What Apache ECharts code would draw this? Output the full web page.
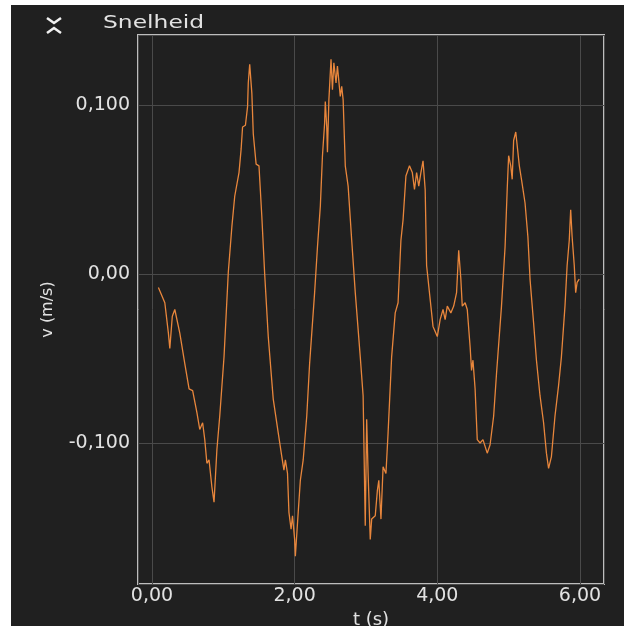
<!DOCTYPE html>
<html>
<head>
<meta charset="utf-8">
<title>Snelheid</title>
<script src="https://cdn.jsdelivr.net/npm/echarts@6/dist/echarts.min.js"></script>
<style>
    html, body { margin: 0; padding: 0; background: #ffffff; }
    .echarts { position: absolute; left: 11px; top: 5px; width: 613px; height: 621px; background: #202020; }
</style>
</head>
<body>
<div class="echarts"></div>
<script>
// meetwaarden
var tijd = [0.09, 0.18, 0.23, 0.25, 0.285, 0.32, 0.39, 0.46, 0.52, 0.57, 0.63, 0.67, 0.71, 0.74, 0.77, 0.80, 0.84, 0.87, 0.91, 0.95,
    1.01, 1.07, 1.12, 1.16, 1.22, 1.25, 1.27, 1.31, 1.34, 1.35, 1.37, 1.40, 1.42, 1.46, 1.50, 1.54, 1.58, 1.63, 1.70, 1.77,
    1.82, 1.85, 1.87, 1.90, 1.92, 1.95, 1.97, 2.00, 2.01, 2.05, 2.08, 2.12, 2.17, 2.21, 2.28, 2.32, 2.36, 2.39, 2.42, 2.43,
    2.45, 2.46, 2.48, 2.51, 2.53, 2.55, 2.58, 2.60, 2.64, 2.66, 2.68, 2.71, 2.75, 2.80, 2.85, 2.92, 2.96, 2.99, 3.01, 3.03,
    3.06, 3.08, 3.13, 3.16, 3.18, 3.21, 3.24, 3.28, 3.31, 3.36, 3.41, 3.45, 3.49, 3.52, 3.56, 3.61, 3.65, 3.68, 3.71, 3.74,
    3.77, 3.80, 3.83, 3.85, 3.90, 3.94, 4.00, 4.04, 4.08, 4.11, 4.14, 4.19, 4.23, 4.27, 4.30, 4.33, 4.35, 4.39, 4.42, 4.46,
    4.48, 4.50, 4.53, 4.56, 4.60, 4.64, 4.70, 4.74, 4.79, 4.83, 4.90, 4.95, 4.98, 5.00, 5.03, 5.05, 5.07, 5.10, 5.12, 5.15,
    5.18, 5.23, 5.27, 5.30, 5.35, 5.39, 5.44, 5.49, 5.53, 5.56, 5.60, 5.65, 5.70, 5.74, 5.79, 5.82, 5.85, 5.87, 5.89, 5.92,
    5.94, 5.96, 5.99];
var snelheid = [-0.008, -0.017, -0.035, -0.044, -0.025, -0.021, -0.035, -0.053, -0.068, -0.069, -0.082, -0.092, -0.088, -0.098, -0.112, -0.110, -0.126, -0.135, -0.104, -0.084,
    -0.049, 0.001, 0.028, 0.046, 0.060, 0.074, 0.087, 0.088, 0.099, 0.113, 0.124, 0.107, 0.083, 0.065, 0.064, 0.034, 0.000, -0.037, -0.074, -0.094,
    -0.108, -0.116, -0.110, -0.118, -0.141, -0.151, -0.143, -0.157, -0.167, -0.141, -0.122, -0.110, -0.084, -0.053, -0.011, 0.016, 0.040, 0.070, 0.089, 0.102,
    0.087, 0.072, 0.103, 0.127, 0.109, 0.125, 0.113, 0.123, 0.105, 0.111, 0.103, 0.064, 0.052, 0.020, -0.011, -0.049, -0.072, -0.149, -0.086, -0.118,
    -0.157, -0.145, -0.143, -0.128, -0.122, -0.145, -0.114, -0.118, -0.094, -0.049, -0.023, -0.017, 0.020, 0.032, 0.058, 0.064, 0.060, 0.050, 0.060, 0.052,
    0.060, 0.067, 0.050, 0.005, -0.015, -0.031, -0.037, -0.027, -0.021, -0.027, -0.019, -0.023, -0.019, -0.011, 0.014, -0.003, -0.019, -0.017, -0.021, -0.043,
    -0.057, -0.051, -0.068, -0.098, -0.100, -0.098, -0.106, -0.101, -0.084, -0.059, -0.019, 0.016, 0.050, 0.070, 0.064, 0.056, 0.079, 0.084, 0.083, 0.064,
    0.056, 0.042, 0.022, -0.003, -0.029, -0.051, -0.072, -0.088, -0.106, -0.115, -0.108, -0.084, -0.066, -0.049, -0.019, 0.005, 0.020, 0.038, 0.022, 0.005,
    -0.011, -0.005, -0.003];

function myecharts() {
    var myChart = echarts.init(document.querySelector('.echarts'));
    var punten = [];
    for (var i = 0; i < tijd.length; i++) {
        punten.push([tijd[i], snelheid[i]]);
    }
    var tekst = '#e2e2e2';
    option = {
        backgroundColor: '#202020',
        animation: false,
        textStyle: { fontFamily: 'DejaVu Sans' },
        graphic: [
            // inklap-icoontje
            { type: 'polyline', shape: { points: [[36, 13], [43, 18], [50, 13]] }, style: { stroke: '#f0f0f0', lineWidth: 2.5, fill: null } },
            { type: 'polyline', shape: { points: [[36, 28], [43, 23], [50, 28]] }, style: { stroke: '#f0f0f0', lineWidth: 2.5, fill: null } },
            {
                type: 'text', x: 92, y: 18, scaleX: 1.3,
                style: { text: 'Snelheid', fill: tekst, font: '18px "DejaVu Sans"', verticalAlign: 'middle' }
            }
        ],
        grid: {
            show: true,
            left: 127,
            right: 20,
            top: 30,
            bottom: 42,
            outerBoundsMode: 'none',
            containLabel: false,
            borderColor: '#bdbdbd',
            borderWidth: 2,
            backgroundColor: '#202020'
        },
        xAxis: {
            type: 'value',
            min: -0.196,
            max: 6.337,
            splitNumber: 3,
            name: 't (s)',
            nameLocation: 'middle',
            nameGap: 14,
            nameTextStyle: { color: tekst, fontSize: 18 },
            axisLine: { show: false },
            axisTick: { show: false },
            axisLabel: {
                color: tekst, fontSize: 19, margin: 3,
                showMinLabel: false, showMaxLabel: false,
                formatter: function(v) {
                    if (Math.abs(v / 2 - Math.round(v / 2)) > 0.001) return '';
                    return v.toFixed(2).replace('.', ',');
                }
            },
            splitLine: { show: true, lineStyle: { color: '#4a4a4a', width: 1 } }
        },
        yAxis: {
            type: 'value',
            min: -0.1834,
            max: 0.1414,
            splitNumber: 3,
            name: 'v (m/s)',
            nameLocation: 'middle',
            nameGap: 82,
            nameTextStyle: { color: tekst, fontSize: 16 },
            axisLine: { show: false },
            axisTick: { show: false },
            axisLabel: {
                color: tekst, fontSize: 19, margin: 8,
                showMinLabel: false, showMaxLabel: false,
                formatter: function(v) {
                    if (Math.abs(v * 10 - Math.round(v * 10)) > 0.001) return '';
                    if (Math.abs(v) < 1e-9) return '0,00';
                    return v.toFixed(3).replace('.', ',');
                }
            },
            splitLine: { show: true, lineStyle: { color: '#4a4a4a', width: 1 } }
        },
        series: [{
            type: 'line',
            data: punten,
            showSymbol: false,
            lineStyle: { color: '#e8863c', width: 1.3 }
        }]
    };
    myChart.setOption(option);
}
myecharts();
</script>
</body>
</html>
